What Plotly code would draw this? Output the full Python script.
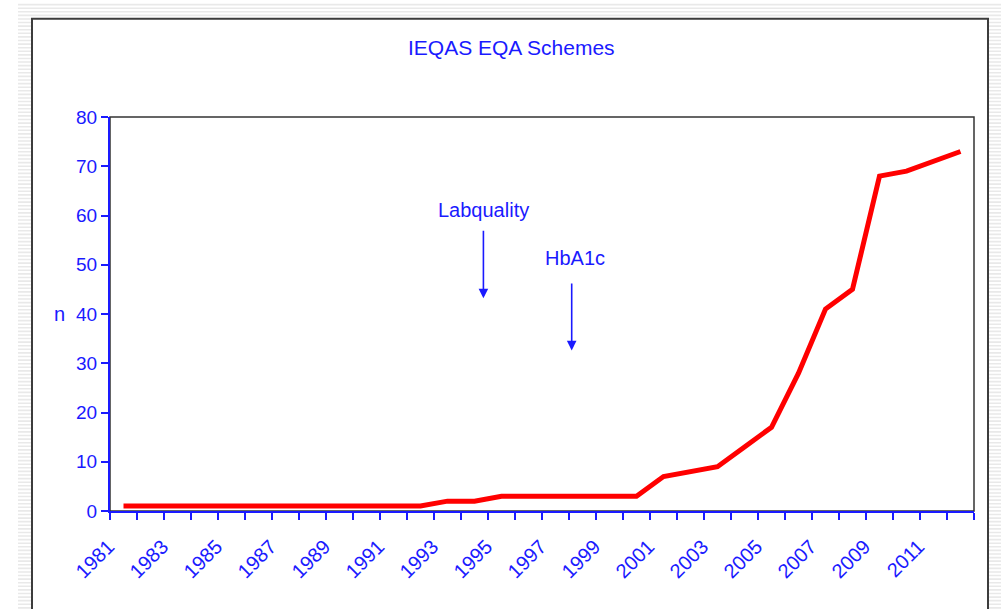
import plotly.graph_objects as go

# ---- data ----
years = ["1981", "1982", "1983", "1984", "1985", "1986", "1987", "1988",
         "1989", "1990", "1991", "1992", "1993", "1994", "1995", "1996",
         "1997", "1998", "1999", "2000", "2001", "2002", "2003", "2004",
         "2005", "2006", "2007", "2008", "2009", "2010", "2011", "2012"]
n_schemes = [1, 1, 1, 1, 1, 1, 1, 1, 1, 1, 1, 1, 2, 2, 3, 3,
             3, 3, 3, 3, 7, 8, 9, 13, 17, 28, 41, 45, 68, 69, 71, 73]
tick_labels = ["1981", "", "1983", "", "1985", "", "1987", "", "1989", "",
               "1991", "", "1993", "", "1995", "", "1997", "", "1999", "",
               "2001", "", "2003", "", "2005", "", "2007", "", "2009", "",
               "2011", ""]
y_ticks = [0, 10, 20, 30, 40, 50, 60, 70, 80]

title_text = "IEQAS EQA Schemes"
y_title = "n"
ann_labels = ["Labquality", "HbA1c"]
ann_x = [13.33, 16.6]          # category index position of arrows
ann_text_x = [13.35, 16.72]
ann_tip_y = [43.2, 32.6]
ann_tail_y = [57.2, 46.5]
ann_text_y = [61.1, 51.3]

# ---- layout geometry (pixels) ----
W, H = 1001, 609
L, R, T, B = 110, 974, 116.5, 511.5
pw, ph = R - L, B - T


def px_x(p):
    return (p - L) / pw


def px_y(p):
    return (B - p) / ph


BLUE = "#1a1aff"
FONT = "Liberation Sans, Arial, sans-serif"

fig = go.Figure()
fig.add_trace(go.Scatter(
    x=years, y=n_schemes, mode="lines",
    line=dict(color="#ff0000", width=5),
    hoverinfo="x+y", showlegend=False,
))

shapes = []
# striped slide background
yy = 3.0
while yy < H:
    shapes.append(dict(type="rect", xref="paper", yref="paper",
                       x0=px_x(18), x1=px_x(W), y0=px_y(yy + 1.6), y1=px_y(yy),
                       fillcolor="#e9e9e9", line=dict(width=0), layer="below"))
    yy += 3.6
# white chart frame
shapes.append(dict(type="rect", xref="paper", yref="paper",
                   x0=px_x(32), x1=px_x(988), y0=px_y(H + 20), y1=px_y(18),
                   fillcolor="white", line=dict(color="#3c3c3c", width=2),
                   layer="below"))
# plot area border
shapes.append(dict(type="rect", xref="paper", yref="paper",
                   x0=0, x1=1, y0=0, y1=1,
                   fillcolor="rgba(0,0,0,0)", line=dict(color="#333333", width=1.5),
                   layer="below"))

annotations = [
    dict(text=title_text, xref="paper", yref="paper",
         x=px_x(511), y=px_y(47), xanchor="center", yanchor="middle",
         showarrow=False, font=dict(family=FONT, size=21, color=BLUE)),
    dict(text=y_title, xref="paper", yref="y",
         x=px_x(67), y=40, xanchor="right", yanchor="middle",
         showarrow=False, font=dict(family=FONT, size=20, color=BLUE)),
]
for lab, ax_, tx, tip, tail, ty in zip(ann_labels, ann_x, ann_text_x,
                                        ann_tip_y, ann_tail_y, ann_text_y):
    annotations.append(dict(text=lab, xref="x", yref="y", x=tx, y=ty,
                            xanchor="center", yanchor="middle", showarrow=False,
                            font=dict(family=FONT, size=20, color=BLUE)))
    annotations.append(dict(text="", xref="x", yref="y", x=ax_, y=tip,
                            axref="x", ayref="y", ax=ax_, ay=tail,
                            showarrow=True, arrowhead=2, arrowsize=1.2,
                            arrowwidth=1.6, arrowcolor=BLUE))

fig.update_layout(
    width=W, height=H,
    margin=dict(l=L, r=W - R, t=T, b=H - B, pad=0),
    paper_bgcolor="white",
    plot_bgcolor="rgba(0,0,0,0)",
    shapes=shapes,
    annotations=annotations,
    showlegend=False,
    font=dict(family=FONT, color=BLUE),
    xaxis=dict(
        type="category", range=[-0.5, 31.5],
        tickmode="array", tickvals=years, ticktext=tick_labels,
        tickson="boundaries", ticks="outside", ticklen=7, tickwidth=2,
        tickcolor=BLUE, showline=True, linecolor=BLUE, linewidth=2,
        showgrid=False, zeroline=False, tickangle=-45,
        ticklabelstandoff=14, ticklabelshift=-15,
        tickfont=dict(family=FONT, size=20, color=BLUE),
    ),
    yaxis=dict(
        range=[0, 80], tickmode="array", tickvals=y_ticks,
        ticks="outside", ticklen=7, tickwidth=2, tickcolor=BLUE,
        showline=True, linecolor=BLUE, linewidth=2,
        showgrid=False, zeroline=False,
        tickfont=dict(family=FONT, size=19, color=BLUE),
    ),
)

fig.write_html("out.html", config={"displayModeBar": False},
               post_script="document.body.style.margin='0px';")
